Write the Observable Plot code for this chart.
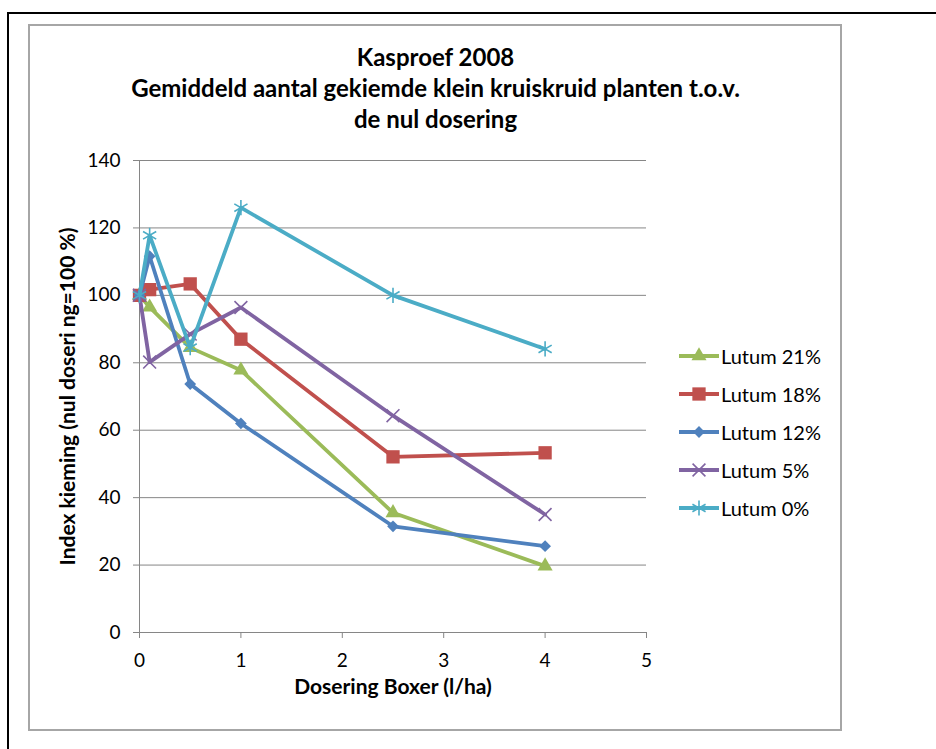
<!DOCTYPE html>
<html><head><meta charset="utf-8">
<script src="https://cdn.jsdelivr.net/npm/d3@7"></script>
<script src="https://cdn.jsdelivr.net/npm/@observablehq/plot@0.6"></script>
<style>
body{margin:0;background:#fff;font-family:Lato,"Open Sans",sans-serif;}
#page{position:relative;width:936px;height:749px;overflow:hidden;background:#fff;}
#outer{position:absolute;left:7px;top:12px;width:1000px;height:1000px;border:2px solid #000;}
#inner{position:absolute;left:28px;top:24px;width:810px;height:703px;border:2px solid #a6a6a6;}
#chart{position:absolute;left:0;top:0;}
#title{position:absolute;left:30px;width:811px;top:41px;text-align:center;font-weight:bold;font-size:24px;line-height:31px;color:#000;}
.leg{position:absolute;left:679px;height:24px;display:flex;align-items:center;font-size:20px;color:#000;white-space:nowrap;}
.leg svg{margin-right:2px;}
</style></head>
<body>
<div id="page">
<div id="outer"></div>
<div id="inner"></div>
<div id="chart"></div>
<div id="title">Kasproef 2008<br>Gemiddeld aantal gekiemde klein kruiskruid planten t.o.v.<br>de nul dosering</div>
<div id="legend"></div>
</div>
<script>
const doses = [0, 0.1, 0.5, 1, 2.5, 4];
const seriesNames = ["Lutum 21%", "Lutum 18%", "Lutum 12%", "Lutum 5%", "Lutum 0%"];
const lutum21 = [100, 96.5, 84.5, 77.8, 35.5, 19.7];
const lutum18 = [100, 101.7, 103.4, 87, 52.1, 53.3];
const lutum12 = [100, 111.6, 73.7, 62, 31.5, 25.6];
const lutum5 = [100, 80.2, 88.5, 96.4, 64.3, 35];
const lutum0 = [100, 117.8, 84.5, 126, 100, 84.1];
const xTicks = [0, 1, 2, 3, 4, 5];
const yTicks = [0, 20, 40, 60, 80, 100, 120, 140];
const xLabel = "Dosering Boxer (l/ha)";
const yLabel = "Index kieming (nul doseri ng=100 %)";

const values = [lutum21, lutum18, lutum12, lutum5, lutum0];
const colors = ["#9BBB59", "#C0504D", "#4F81BD", "#8064A2", "#4BACC6"];
const symbols = ["triangle", "square", "diamond2", "times", "asterisk"];
const sizes = [5.6, 7.5, 5.3, 5.9, 7.2];
const filled = [true, true, true, false, false];

const data = seriesNames.flatMap((s, i) => doses.map((x, j) => ({series: s, x, y: values[i][j]})));

const grey = "#868686";
const marks = [
  Plot.gridY(yTicks.filter(t => t > 0), {stroke: grey, strokeOpacity: 1}),
  Plot.ruleX([0], {stroke: grey}),
  Plot.ruleY([0], {stroke: grey}),
  Plot.axisY(yTicks, {tickSize: 6, tickPadding: 13, stroke: grey, strokeOpacity: 1, label: null, fontSize: 19}),
  Plot.axisX(xTicks, {tickSize: 6, tickPadding: 15, stroke: grey, strokeOpacity: 1, label: null, fontSize: 19}),
  Plot.text([xLabel], {text: d => d, frameAnchor: "bottom", dy: 61, fontWeight: "bold", fontSize: 21}),
  Plot.text([yLabel], {text: d => d, frameAnchor: "left", textAnchor: "middle", dx: -71, rotate: -90, fontWeight: "bold", fontSize: 21})
];
seriesNames.forEach((s, i) => {
  const d = data.filter(e => e.series === s);
  marks.push(Plot.line(d, {x: "x", y: "y", stroke: colors[i], strokeWidth: 3.8}));
  marks.push(Plot.dot(d, filled[i]
    ? {x: "x", y: "y", symbol: symbols[i], r: sizes[i], fill: colors[i], stroke: "none"}
    : {x: "x", y: "y", symbol: symbols[i], r: sizes[i], stroke: colors[i], fill: "none", strokeWidth: 1.6}));
});

const chart = Plot.plot({
  width: 936, height: 749,
  marginLeft: 139, marginRight: 290, marginTop: 160, marginBottom: 117,
  style: {fontFamily: "Lato, 'Open Sans', sans-serif", fontSize: "19px", color: "#000", background: "transparent", overflow: "visible"},
  x: {domain: [0, 5]},
  y: {domain: [0, 140]},
  marks
});
document.getElementById("chart").appendChild(chart);

// legend
const symMap = {triangle: d3.symbolTriangle, square: d3.symbolSquare, diamond2: d3.symbolDiamond2, times: d3.symbolTimes, asterisk: d3.symbolAsterisk};
const rowY = [356, 394, 432, 470, 508];
const legend = document.getElementById("legend");
seriesNames.forEach((s, i) => {
  const div = document.createElement("div");
  div.className = "leg";
  div.style.top = (rowY[i] - 12) + "px";
  const path = d3.symbol(symMap[symbols[i]], sizes[i] * sizes[i] * Math.PI)();
  const symAttr = filled[i] ? `fill="${colors[i]}" stroke="none"` : `fill="none" stroke="${colors[i]}" stroke-width="1.6"`;
  div.innerHTML = `<svg width="40" height="24"><line x1="0" x2="40" y1="12" y2="12" stroke="${colors[i]}" stroke-width="3.8"/><path transform="translate(20,12)" d="${path}" ${symAttr}/></svg><span>${s}</span>`;
  legend.appendChild(div);
});
</script>
</body></html>
